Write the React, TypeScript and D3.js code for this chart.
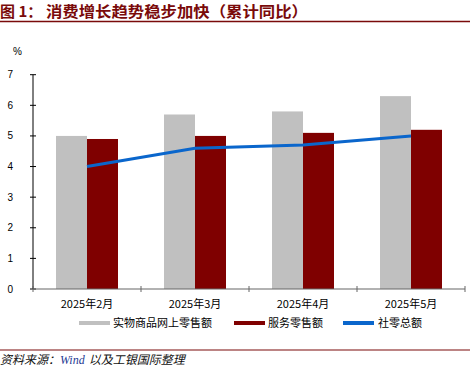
import React from "react";
import * as d3 from "d3";

const categories = ["2025年2月", "2025年3月", "2025年4月", "2025年5月"];
const onlineGoods = [5.0, 5.7, 5.8, 6.3];
const services = [4.9, 5.0, 5.1, 5.2];
const retailTotal = [4.0, 4.6, 4.7, 5.0];
const yTicks = [0, 1, 2, 3, 4, 5, 6, 7];
const seriesNames = ["实物商品网上零售额", "服务零售额", "社零总额"];

const W = 470, H = 369;
const left = 33, right = 465, top = 74.7, bottom = 289;
const cjk = "SimSun, 'Noto Sans CJK SC', sans-serif";

export default function App() {
    const x = d3.scaleBand().domain(categories).range([left, right]);
    const y = d3.scaleLinear().domain([0, 7]).range([bottom, top]);
    const barW = 31;

    const line = d3.line<number>()
        .x((_, i) => x(categories[i])! + x.bandwidth() / 2)
        .y(d => y(d));

    const tickEdges = [...categories.map(c => x(c)!), right];

    return (
        <div style={{ position: "absolute", left: 0, top: 0 }}>
            <svg width={W} height={H} style={{ display: "block", background: "#fff" }}>
                {/* title */}
                <text x={0} y={17} fontFamily={cjk} fontWeight="bold" fontSize={15} fill="#7a0a0a">图 1：</text>
                <text x={46} y={17} fontFamily={cjk} fontWeight="bold" fontSize={15} fill="#7a0a0a" textLength={262} lengthAdjust="spacingAndGlyphs">消费增长趋势稳步加快（累计同比）</text>
                <line x1={0} x2={W} y1={21.5} y2={21.5} stroke="#7a0a0a" strokeWidth={1.5} />

                <text x={13} y={55} fontSize={10} fontFamily="'Liberation Sans Narrow', Arial, sans-serif" fill="#000">%</text>

                {/* bars */}
                {categories.map((c, i) => {
                    const cx = x(c)! + x.bandwidth() / 2;
                    return (
                        <g key={c}>
                            <rect x={cx - barW} y={y(onlineGoods[i])} width={barW} height={bottom - y(onlineGoods[i])} fill="#c0c0c0" />
                            <rect x={cx} y={y(services[i])} width={barW} height={bottom - y(services[i])} fill="#7f0000" />
                        </g>
                    );
                })}

                {/* total retail line */}
                <path d={line(retailTotal)!} fill="none" stroke="#0a66cc" strokeWidth={3} />

                {/* y axis */}
                <line x1={left} x2={left} y1={top} y2={bottom} stroke="#000" strokeWidth={1} />
                {yTicks.map(t => (
                    <g key={t}>
                        <line x1={left - 3} x2={left + 3} y1={y(t)} y2={y(t)} stroke="#000" />
                        <text x={13} y={y(t)} dy="0.35em" textAnchor="end" fontSize={10}
                            fontFamily="'Liberation Sans Narrow', Arial, sans-serif" fill="#000">{t}</text>
                    </g>
                ))}

                {/* x axis */}
                <line x1={left} x2={right} y1={bottom} y2={bottom} stroke="#666" strokeWidth={1.2} />
                {tickEdges.map((e, i) => (
                    <line key={i} x1={e} x2={e} y1={bottom - 3} y2={bottom + 3} stroke="#666" />
                ))}
                {categories.map(c => (
                    <text key={c} x={x(c)! + x.bandwidth() / 2} y={308} textAnchor="middle"
                        fontSize={11} fontFamily={cjk} fill="#000">{c}</text>
                ))}

                {/* legend */}
                {[
                    { name: seriesNames[0], color: "#c0c0c0", sx: 79, tx: 113 },
                    { name: seriesNames[1], color: "#7f0000", sx: 234, tx: 268 },
                    { name: seriesNames[2], color: "#0a66cc", sx: 343, tx: 378 },
                ].map(l => (
                    <g key={l.name}>
                        <rect x={l.sx} y={321} width={31} height={4} fill={l.color} />
                        <text x={l.tx} y={327} fontSize={11} fontFamily={cjk} fill="#000">{l.name}</text>
                    </g>
                ))}

                {/* source */}
                <line x1={0} x2={W} y1={350} y2={350} stroke="#7a0a0a" strokeWidth={1.2} />
                <text x={0} y={364} fontSize={12} fontStyle="italic" fontFamily={cjk} fill="#111">
                    资料来源：
                    <tspan fill="#1f3a93" fontFamily="'Liberation Serif', serif">Wind</tspan>
                    <tspan dx={4}>以及工银国际整理</tspan>
                </text>
            </svg>
        </div>
    );
}
